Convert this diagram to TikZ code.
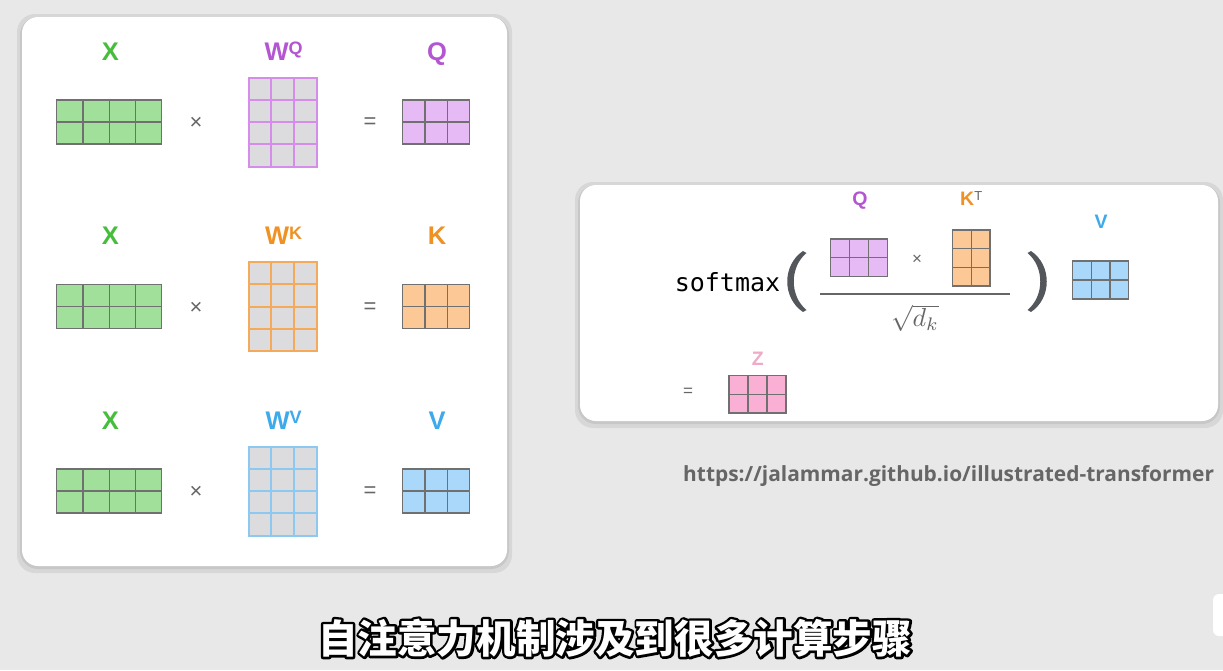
\documentclass[tikz,border=0pt]{standalone}
\usepackage{graphicx}
\usepackage{fontspec}
\setmainfont{Liberation Sans}
\newfontfamily\monofont{DejaVu Sans Mono}
\newfontfamily\urlfont{Open Sans}
\newfontfamily\cjk{Noto Sans CJK SC}
\usetikzlibrary{calc}

\definecolor{pagebg}{HTML}{E8E8E8}
\definecolor{xfill}{HTML}{A0E09A}
\definecolor{qfill}{HTML}{E6BAF4}
\definecolor{kfill}{HTML}{FCC896}
\definecolor{vfill}{HTML}{AAD8FA}
\definecolor{zfill}{HTML}{FAB0D4}
\definecolor{wfill}{HTML}{DCDCDE}
\definecolor{matedge}{HTML}{707070}
\definecolor{wqedge}{HTML}{D58CEB}
\definecolor{wkedge}{HTML}{F5AA5A}
\definecolor{wvedge}{HTML}{8CC8F0}
\definecolor{xtext}{HTML}{46BE3C}
\definecolor{qtext}{HTML}{B455D2}
\definecolor{ktext}{HTML}{F09123}
\definecolor{vtext}{HTML}{3CAAEB}
\definecolor{ztext}{HTML}{F0AAC8}
\definecolor{opgray}{HTML}{666666}
\definecolor{parengray}{HTML}{53575B}
\definecolor{urlgray}{HTML}{666666}

\tikzset{
  panel/.style={rounded corners=16pt,fill=white},
  panelshade/.style={rounded corners=18pt,fill=black,opacity=0.07},
  mat/.style={inner sep=0pt,outer sep=0pt,line width=1.2pt,draw=matedge},
  xmat/.style={mat,fill=xfill},
  qmat/.style={mat,fill=qfill},
  kmat/.style={mat,fill=kfill},
  vmat/.style={mat,fill=vfill},
  zmat/.style={mat,fill=zfill},
  wqmat/.style={mat,fill=wfill,draw=wqedge,line width=2pt},
  wkmat/.style={mat,fill=wfill,draw=wkedge,line width=2pt},
  wvmat/.style={mat,fill=wfill,draw=wvedge,line width=2pt},
  biglabel/.style={font=\fontsize{25.5}{30}\selectfont\bfseries,anchor=base,inner sep=0pt},
  smalllabel/.style={font=\fontsize{19.5}{24}\selectfont\bfseries,anchor=base,inner sep=0pt},
  opsign/.style={text=opgray,inner sep=0pt,font=\fontsize{22}{24}\selectfont},
  subtitle/.style={font=\fontsize{39.6}{44}\selectfont\cjk\bfseries,inner sep=0pt}
}

% matrix drawn as a node plus its inner grid lines
\newcommand{\gridmat}[7]{%
  \node[#7,minimum width=#3*#5pt,minimum height=#4*#6pt] (#1) at (#2) {};
  \pgfmathtruncatemacro{\lastcol}{#3-1}%
  \pgfmathtruncatemacro{\lastrow}{#4-1}%
  \foreach \ci in {1,...,\lastcol}
    \draw[#7] ($(#1.north west)+(\ci*#5,0)$) -- ($(#1.south west)+(\ci*#5,0)$);
  \foreach \ri in {1,...,\lastrow}
    \draw[#7] ($(#1.north west)+(0,\ri*#6)$) -- ($(#1.north east)+(0,\ri*#6)$);
}
\newcommand{\wlabel}[1]{W\raisebox{5.4pt}{\fontsize{18}{20}\selectfont #1}}
\newcommand{\subtext}{自注意力机制涉及到很多计算步骤}
% white text with a black outline: stroked copy under a filled copy
\newcommand{\outlined}[1]{%
  \rlap{\special{pdf:literal direct 0 G 0 g 5 w 1 j 2 Tr}#1\special{pdf:literal direct 0 Tr}}%
  {\color{white}#1}}

\begin{document}
\begin{tikzpicture}[x=1pt,y=-1pt]
  \useasboundingbox (0,0) rectangle (1223,670);
  \fill[pagebg] (0,0) rectangle (1223,670);

  % panels
  \fill[panelshade] (17,14) rectangle (512,573);
  \fill[panelshade] (20,17) rectangle (509,569);
  \fill[panel] (22,17) rectangle (507,566);
  \fill[panelshade] (575,182) rectangle (1223,428);
  \fill[panelshade] (578,185) rectangle (1220,424);
  \fill[panel] (580,185) rectangle (1218,421);
  \fill[white,rounded corners=6pt] (1213,594) rectangle (1235,636);

  % left panel: X W = Q/K/V
  \node[biglabel,text=xtext] (lx1) at (110.5,60) {X};
  \node[biglabel,text=qtext] (lwq) at (283.7,60) {\wlabel{Q}};
  \node[biglabel,text=qtext] (lq) at (437,60) {Q};
  \gridmat{x1}{109.2,122}{4}{2}{26.25}{22}{xmat}
  \node[opsign] (times1) at (196,123.5) {×};
  \gridmat{wq}{282.7,122.2}{3}{4}{22.7}{22.25}{wqmat}
  \node[opsign] (eq1) at (370,123.5) {=};
  \gridmat{q}{436,122}{3}{2}{22.2}{22}{qmat}

  \node[biglabel,text=xtext] (lx2) at (110.5,244.5) {X};
  \node[biglabel,text=ktext] (lwk) at (283.7,244.5) {\wlabel{K}};
  \node[biglabel,text=ktext] (lk) at (437,244.5) {K};
  \gridmat{x2}{109.2,306.5}{4}{2}{26.25}{22}{xmat}
  \node[opsign] (times2) at (196,308) {×};
  \gridmat{wk}{282.7,306.7}{3}{4}{22.7}{22.25}{wkmat}
  \node[opsign] (eq2) at (370,308) {=};
  \gridmat{k}{436,306.5}{3}{2}{22.2}{22}{kmat}

  \node[biglabel,text=xtext] (lx3) at (110.5,429) {X};
  \node[biglabel,text=vtext] (lwv) at (283.7,429) {\wlabel{V}};
  \node[biglabel,text=vtext] (lv) at (437,429) {V};
  \gridmat{x3}{109.2,491}{4}{2}{26.25}{22}{xmat}
  \node[opsign] (times3) at (196,492.5) {×};
  \gridmat{wv}{282.7,491.2}{3}{4}{22.7}{22.25}{wvmat}
  \node[opsign] (eq3) at (370,492.5) {=};
  \gridmat{v}{436,491}{3}{2}{22.2}{22}{vmat}

  % right panel: attention formula
  \node[inner sep=0pt,anchor=base,font=\fontsize{25}{30}\selectfont\monofont] (softmax) at (727.5,291) {softmax};
  \fill[parengray] (803,251) .. controls (782,265) and (782,298) .. (803,312)
    -- (806.5,310) .. controls (789.5,296) and (789.5,267) .. (806.5,253) -- cycle;
  \fill[parengray] (1031,251) .. controls (1052,265) and (1052,298) .. (1031,312)
    -- (1027.5,310) .. controls (1044.5,296) and (1044.5,267) .. (1027.5,253) -- cycle;

  \node[smalllabel,text=qtext] (rq) at (860,205) {Q};
  \node[smalllabel,text=ktext,anchor=base west] (rkt) at (960,205)
    {K\raisebox{5pt}{\fontsize{13}{15}\selectfont\mdseries\color{opgray}T}};
  \gridmat{rqm}{859.3,257.8}{3}{2}{19}{18.8}{qmat}
  \node[opsign,font=\fontsize{17}{20}\selectfont] (times4) at (917,259.5) {×};
  \gridmat{rktm}{971.3,258}{2}{3}{18.7}{18.7}{kmat}
  \draw[opgray,line width=1.5pt] (820,294) -- (1010,294);
  \node[inner sep=0pt,text=opgray] (sqrtdk) at (915,318) {\scalebox{2.6}{$\sqrt{d_k}$}};

  \node[smalllabel,text=vtext] (rv) at (1101,228) {V};
  \gridmat{rvm}{1100.7,280}{3}{2}{18.7}{19}{vmat}

  \node[opsign,font=\fontsize{17}{20}\selectfont] (eq4) at (688,392) {=};
  \node[smalllabel,text=ztext] (rz) at (757.7,365.5) {Z};
  \gridmat{rzm}{757.5,394.3}{3}{2}{19}{18.7}{zmat}

  % source link
  \node[inner sep=0pt,anchor=base west,text=urlgray,font=\fontsize{20.9}{24}\selectfont\urlfont\bfseries] (link) at (683,481)
    {https://jalammar.github.io/illustrated-transformer};

  % subtitle
  \node[subtitle] (sub) at (615,638) {\outlined{\subtext}};
\end{tikzpicture}
\end{document}
